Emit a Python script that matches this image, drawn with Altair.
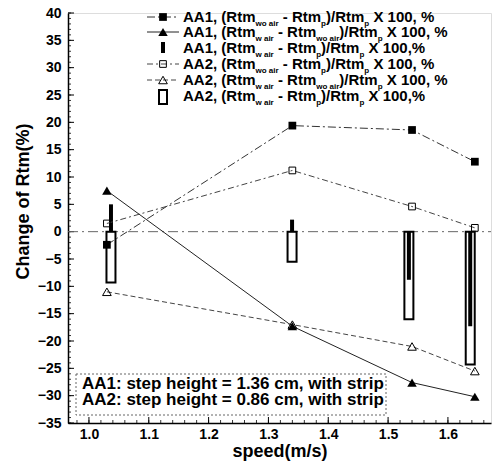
import altair as alt
import pandas as pd

# ---------------- data ----------------
speed = [1.03, 1.34, 1.54, 1.645]
aa1_wo_p = [-2.4, 19.4, 18.6, 12.8]
aa1_w_wo = [7.5, -17.3, -27.6, -30.2]
aa1_w_p = [5.0, 2.2, -8.8, -17.3]
aa2_wo_p = [1.5, 11.2, 4.6, 0.7]
aa2_w_wo = [-11.0, -17.0, -21.0, -25.5]
aa2_w_p = [-9.3, -5.5, -16.0, -24.3]

x_ticks = [1.0, 1.1, 1.2, 1.3, 1.4, 1.5, 1.6]
y_ticks = list(range(-35, 41, 5))
note_lines = ["AA1: step height = 1.36 cm, with strip",
              "AA2: step height = 0.86 cm, with strip"]
legend_labels = [
    [("AA1, (Rtm", 0), ("wo air", 1), (" - Rtm", 0), ("p", 1), (")/Rtm", 0), ("p", 1), (" X 100, %", 0)],
    [("AA1, (Rtm", 0), ("w air", 1), (" - Rtm", 0), ("wo air", 1), (")/Rtm", 0), ("p", 1), (" X 100, %", 0)],
    [("AA1, (Rtm", 0), ("w air", 1), (" - Rtm", 0), ("p", 1), (")/Rtm", 0), ("p", 1), (" X 100,%", 0)],
    [("AA2, (Rtm", 0), ("wo air", 1), (" - Rtm", 0), ("p", 1), (")/Rtm", 0), ("p", 1), (" X 100, %", 0)],
    [("AA2, (Rtm", 0), ("w air", 1), (" - Rtm", 0), ("wo air", 1), (")/Rtm", 0), ("p", 1), (" X 100, %", 0)],
    [("AA2, (Rtm", 0), ("w air", 1), (" - Rtm", 0), ("p", 1), (")/Rtm", 0), ("p", 1), (" X 100,%", 0)],
]

# ---------------- layout ----------------
W, H = 423, 410
FONT = "Liberation Sans"
xs = alt.Scale(domain=[0.965, 1.672], nice=False, zero=False)
ys = alt.Scale(domain=[-35, 40], nice=False, zero=False)

def df(col):
    return pd.DataFrame({"speed": speed, "v": col})

def xenc(axis=None):
    return alt.X("speed:Q", scale=xs, axis=axis)

def yenc():
    return alt.Y("v:Q", scale=ys, axis=None)

x_axis = alt.Axis(values=x_ticks, format=".1f", ticks=False, grid=False, domain=True,
                  domainColor="black", domainWidth=1.5, labelFont=FONT, labelFontSize=14,
                  labelFontWeight="bold", labelColor="black", labelPadding=4,
                  title="speed(m/s)", titleFont=FONT, titleFontSize=18, titleFontWeight="bold",
                  titleColor="black", titlePadding=1)
y_axis = alt.Axis(values=y_ticks, ticks=False, grid=False, domain=True,
                  domainColor="black", domainWidth=1.5, labelFont=FONT, labelFontSize=14,
                  labelFontWeight="bold", labelColor="black", labelPadding=7,
                  title="Change of Rtm(%)", titleFont=FONT, titleFontSize=18,
                  titleFontWeight="bold", titleColor="black", titlePadding=5, titleY=188)

axes = alt.Chart(df(aa1_wo_p)).mark_point(opacity=0).encode(
    x=xenc(x_axis), y=alt.Y("v:Q", scale=ys, axis=y_axis))

ymaj = alt.Chart(pd.DataFrame({"t": y_ticks})).mark_rule(color="black", strokeWidth=1).encode(
    y=alt.Y("t:Q", scale=ys, axis=None), x=alt.value(0), x2=alt.value(6))
ymin = alt.Chart(pd.DataFrame({"t": list(range(-35, 41))})).mark_rule(color="black", strokeWidth=0.8).encode(
    y=alt.Y("t:Q", scale=ys, axis=None), x=alt.value(0), x2=alt.value(3))
xmaj = alt.Chart(pd.DataFrame({"t": x_ticks})).mark_rule(color="black", strokeWidth=1).encode(
    x=alt.X("t:Q", scale=xs, axis=None), y=alt.value(H), y2=alt.value(H - 6))
xmin = alt.Chart(pd.DataFrame({"t": [round(0.98 + 0.02 * i, 2) for i in range(35)]})).mark_rule(
    color="black", strokeWidth=0.8).encode(
    x=alt.X("t:Q", scale=xs, axis=None), y=alt.value(H), y2=alt.value(H - 3))

zero = alt.Chart(pd.DataFrame({"z": [0]})).mark_rule(color="#666", strokeWidth=1, strokeDash=[10, 4, 2, 4]).encode(
    y=alt.Y("z:Q", scale=ys, axis=None), x=alt.value(0), x2=alt.value(W))

bar2 = alt.Chart(df(aa2_w_p)).mark_bar(size=9, fillOpacity=0, stroke="black", strokeWidth=2).encode(
    x=xenc(), y=yenc(), y2=alt.datum(0))
bar1 = alt.Chart(df(aa1_w_p)).mark_bar(size=4, color="black").encode(
    x=xenc(), y=yenc(), y2=alt.datum(0))

l1 = alt.Chart(df(aa1_wo_p)).mark_line(color="#333", strokeWidth=1, strokeDash=[8, 3, 2, 3]).encode(x=xenc(), y=yenc())
l2 = alt.Chart(df(aa1_w_wo)).mark_line(color="#222", strokeWidth=1).encode(x=xenc(), y=yenc())
l4 = alt.Chart(df(aa2_wo_p)).mark_line(color="#444", strokeWidth=1, strokeDash=[6, 3, 2, 3]).encode(x=xenc(), y=yenc())
l5 = alt.Chart(df(aa2_w_wo)).mark_line(color="#444", strokeWidth=1, strokeDash=[5, 3]).encode(x=xenc(), y=yenc())

p1 = alt.Chart(df(aa1_wo_p)).mark_point(shape="square", filled=True, color="black", size=60, opacity=1).encode(x=xenc(), y=yenc())
p2 = alt.Chart(df(aa1_w_wo)).mark_point(shape="triangle-up", filled=True, color="black", size=90, opacity=1).encode(x=xenc(), y=yenc())
p4 = alt.Chart(df(aa2_wo_p)).mark_point(shape="square", filled=False, color="black", size=45, strokeWidth=1, opacity=1).encode(x=xenc(), y=yenc())
p5 = alt.Chart(df(aa2_w_wo)).mark_point(shape="triangle-up", filled=False, color="black", size=75, strokeWidth=1, opacity=1).encode(x=xenc(), y=yenc())

one = pd.DataFrame({"a": [0]})
box = alt.Chart(one).mark_rect(fillOpacity=0, stroke="#666", strokeWidth=1, strokeDash=[2, 2]).encode(
    x=alt.value(8), x2=alt.value(318), y=alt.value(361), y2=alt.value(402))
notes = [alt.Chart(pd.DataFrame({"t": [note_lines[i]]})).mark_text(
    align="left", baseline="middle", font=FONT, fontSize=17, fontWeight="bold", color="black").encode(
    x=alt.value(14), y=alt.value(371 + 16 * i), text="t:N") for i in range(2)]

CW = {" ": 278, "%": 889, "(": 333, ")": 333, ",": 278, "-": 333, "/": 278, ":": 333, "=": 584,
      "A": 722, "R": 722, "X": 667, "a": 556, "c": 556, "e": 556, "g": 611, "h": 611, "i": 278,
      "m": 889, "o": 611, "p": 611, "r": 389, "s": 556, "t": 333, "w": 778}
for d in "0123456789":
    CW[d] = 556
FS_MAIN, FS_SUB = 15, 8
row_y = [4, 19, 35, 51, 67, 83]
text_x0 = 115
segs = []
for i, row in enumerate(legend_labels):
    x = text_x0
    for txt, sub in row:
        fs = FS_SUB if sub else FS_MAIN
        stripped = txt.lstrip(" ")
        lead = (len(txt) - len(stripped)) * CW[" "] * fs / 1000
        segs.append({"t": stripped, "x": x + lead, "y": row_y[i] + (9 if sub else 5), "fs": fs})
        x += sum(CW.get(c, 556) for c in txt) * fs / 1000
seg_df = pd.DataFrame(segs)
leg_text = alt.Chart(seg_df).mark_text(align="left", baseline="alphabetic", font=FONT,
                                       fontWeight="bold", color="black").encode(
    x=alt.X("x:Q", scale=None), y=alt.Y("y:Q", scale=None),
    size=alt.Size("fs:Q", scale=None, legend=None), text="t:N")

sx = 95

def leg_line(i, dash, color):
    return alt.Chart(one).mark_rule(color=color, strokeWidth=1, strokeDash=dash).encode(
        y=alt.value(row_y[i]), x=alt.value(sx - 16), x2=alt.value(sx + 16))

def leg_pt(i, shape, filled, size):
    return alt.Chart(one).mark_point(shape=shape, filled=filled, color="black", size=size,
                                     strokeWidth=1, opacity=1).encode(
        y=alt.value(row_y[i]), x=alt.value(sx))

lg = [
    leg_line(0, [8, 3, 2, 3], "#333"), leg_pt(0, "square", True, 60),
    leg_line(1, [1, 0], "#222"), leg_pt(1, "triangle-up", True, 90),
    alt.Chart(one).mark_rule(color="black", strokeWidth=4).encode(
        y=alt.value(row_y[2] + 5), y2=alt.value(row_y[2] - 6), x=alt.value(sx)),
    leg_line(3, [6, 3, 2, 3], "#444"), leg_pt(3, "square", False, 45),
    leg_line(4, [5, 3], "#444"), leg_pt(4, "triangle-up", False, 75),
    alt.Chart(one).mark_rect(fillOpacity=0, stroke="black", strokeWidth=2).encode(
        x=alt.value(sx - 4), x2=alt.value(sx + 4), y=alt.value(row_y[5] - 6), y2=alt.value(row_y[5] + 8)),
]

chart = alt.layer(
    axes, ymin, ymaj, xmin, xmaj, zero, bar2, bar1, l1, l2, l4, l5, p1, p2, p4, p5,
    box, *notes, leg_text, *lg
).resolve_scale(x="independent", y="independent").properties(
    width=W, height=H,
    autosize=alt.AutoSizeParams(type="none"),
    padding={"left": 68, "top": 13, "right": 2, "bottom": 42},
).configure_view(stroke=None).configure(background="white")

chart.save("out.html", embed_options={"renderer": "svg", "actions": False})
